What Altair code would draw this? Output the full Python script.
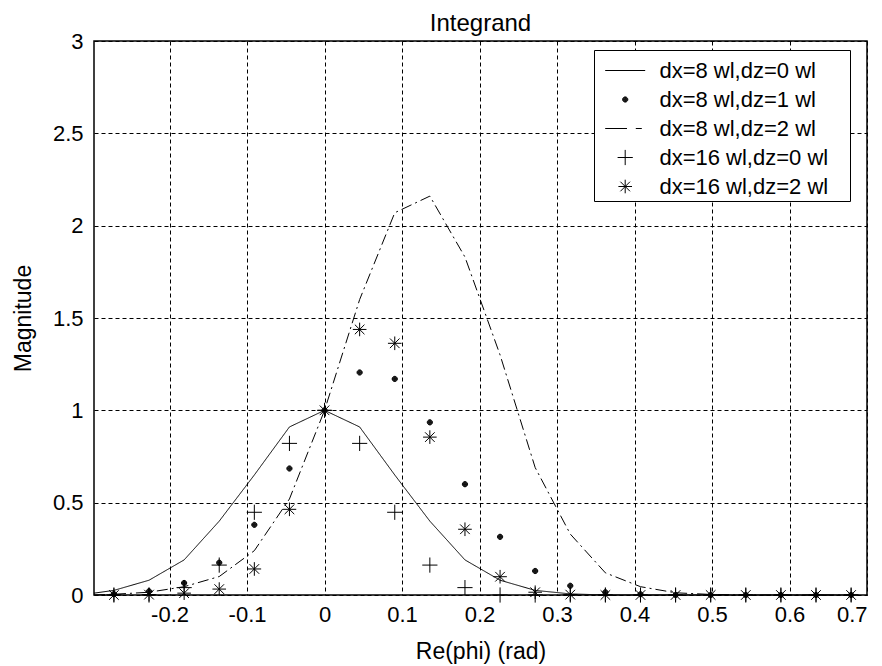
import altair as alt
import pandas as pd

# ---- data ----
phi_markers = [-0.2718, -0.2265, -0.1812, -0.1359, -0.0906, -0.0453, 0.0, 0.0453, 0.0906, 0.1359,
               0.1812, 0.2265, 0.2718, 0.3171, 0.3624, 0.4077, 0.4530, 0.4983, 0.5436, 0.5889,
               0.6342, 0.6795]
phi_lines = [-0.2975, -0.2718, -0.2265, -0.1812, -0.1359, -0.0906, -0.0453, 0.0, 0.0453, 0.0906,
             0.1359, 0.1812, 0.2265, 0.2718, 0.3171, 0.3624, 0.4077, 0.4530, 0.4983, 0.5436,
             0.5889, 0.6342, 0.6795]

mag_dx8_dz0 = [0.01, 0.025, 0.08, 0.19, 0.40, 0.65, 0.91, 1.0, 0.91, 0.65, 0.40, 0.19, 0.08,
               0.025, 0.006, 0.0, 0.0, 0.0, 0.0, 0.0, 0.0, 0.0, 0.0]
mag_dx8_dz2 = [0.0, 0.004, 0.015, 0.045, 0.10, 0.24, 0.52, 1.0, 1.60, 2.07, 2.16, 1.83, 1.30,
               0.69, 0.33, 0.12, 0.045, 0.012, 0.003, 0.0, 0.0, 0.0, 0.0]
mag_dx8_dz1 = [0.005, 0.02, 0.065, 0.175, 0.38, 0.685, 1.0, 1.205, 1.17, 0.935, 0.60, 0.315,
               0.13, 0.05, 0.015, 0.004, 0.0, 0.0, 0.0, 0.0, 0.0, 0.0]
mag_dx16_dz0 = [0.0, 0.0, 0.04, 0.162, 0.448, 0.821, 1.0, 0.821, 0.448, 0.162, 0.04, 0.0, 0.0,
                0.0, 0.0, 0.0, 0.0, 0.0, 0.0, 0.0, 0.0, 0.0]
mag_dx16_dz2 = [0.0, 0.002, 0.01, 0.032, 0.141, 0.464, 1.0, 1.438, 1.363, 0.855, 0.356, 0.099,
                0.015, 0.002, 0.0, 0.0, 0.0, 0.0, 0.0, 0.0, 0.0, 0.0]

series_labels = ["dx=8 wl,dz=0 wl", "dx=8 wl,dz=1 wl", "dx=8 wl,dz=2 wl",
                 "dx=16 wl,dz=0 wl", "dx=16 wl,dz=2 wl"]
x_ticks = [-0.2, -0.1, 0.0, 0.1, 0.2, 0.3, 0.4, 0.5, 0.6, 0.7]
y_ticks = [0, 0.5, 1, 1.5, 2, 2.5, 3]

# ---- tables ----
line_df = pd.concat([
    pd.DataFrame({"phi": phi_lines, "mag": mag_dx8_dz0, "series": series_labels[0]}),
    pd.DataFrame({"phi": phi_lines, "mag": mag_dx8_dz2, "series": series_labels[2]}),
])
point_df = pd.concat([
    pd.DataFrame({"phi": phi_markers, "mag": mag_dx8_dz1, "series": series_labels[1]}),
    pd.DataFrame({"phi": phi_markers, "mag": mag_dx16_dz0, "series": series_labels[3]}),
    pd.DataFrame({"phi": phi_markers, "mag": mag_dx16_dz2, "series": series_labels[4]}),
])

FONT = "Liberation Sans"
SYM_SIZE = 1130  # sqrt -> 33.6 px, one path unit = 16.8 px


def ring(r):
    return f"M-{r},0A{r},{r} 0 1,0 {r},0A{r},{r} 0 1,0 -{r},0"


dot_path = "".join(ring(r) for r in [0.155, 0.125, 0.095, 0.065, 0.036, 0.012])
shape_range = [
    "M-1.19,0L1.19,0",
    dot_path,
    "M-1.19,0L0.107,0M0.63,0L0.988,0",
    "M-0.452,0L0.452,0M0,-0.452L0,0.452",
    "M-0.405,0L0.405,0M0,-0.405L0,0.405M-0.286,-0.286L0.286,0.286M-0.286,0.286L0.286,-0.286",
]

x_enc = alt.X("phi:Q",
              scale=alt.Scale(domain=[-0.2975, 0.7], nice=False, zero=False),
              axis=alt.Axis(values=x_ticks, title="Re(phi) (rad)", grid=True,
                            gridDash=[4, 3], gridColor="black", gridOpacity=1, gridWidth=1,
                            ticks=False, domain=False, labelPadding=9,
                            labelExpr="(datum.value < 0 ? '-' : '') + format(abs(datum.value), '.1~f')",
                            titleY=63, titleBaseline="alphabetic"))
y_enc = alt.Y("mag:Q",
              scale=alt.Scale(domain=[0, 3], nice=False),
              axis=alt.Axis(values=y_ticks, title="Magnitude", grid=True,
                            gridDash=[4, 3], gridColor="black", gridOpacity=1, gridWidth=1,
                            ticks=False, domain=False, labelPadding=11,
                            labelExpr="format(datum.value, '.1~f')",
                            titleX=-64, titleBaseline="alphabetic"))

lines = alt.Chart(line_df).mark_line(color="black", strokeWidth=1).encode(
    x=x_enc, y=y_enc,
    detail="series:N",
    strokeDash=alt.StrokeDash("series:N",
                              scale=alt.Scale(domain=[series_labels[0], series_labels[2]],
                                              range=[[1, 0], [11, 4, 2, 4]]),
                              legend=None),
)

points = alt.Chart(point_df).mark_point(size=SYM_SIZE, color="black", filled=False,
                                         strokeWidth=1, opacity=1).encode(
    x="phi:Q", y="mag:Q",
    shape=alt.Shape("series:N",
                    scale=alt.Scale(domain=series_labels, range=shape_range),
                    legend=alt.Legend(title=None, orient="none", legendX=500, legendY=9,
                                      direction="vertical", padding=3,
                                      strokeColor="black", fillColor="white",
                                      labelFont=FONT, labelFontSize=22, labelColor="black",
                                      labelLimit=0, symbolSize=SYM_SIZE, symbolOffset=10.7,
                                      labelOffset=16.7, rowPadding=0,
                                      labelExpr="datum.label + '\u00a0\u00a0\u00a0\u200b'",
                                      symbolStrokeWidth=1, symbolStrokeColor="black",
                                      symbolOpacity=1)),
)

chart = alt.layer(lines, points).properties(
    width=773, height=554,
    background="white",
    title=alt.TitleParams("Integrand", font=FONT, fontSize=24, fontWeight="normal",
                          color="black", anchor="middle", frame="group",
                          baseline="alphabetic", offset=11, dy=36),
    autosize=alt.AutoSizeParams(type="none"),
    padding={"left": 94, "top": 41, "right": 15, "bottom": 71},
).configure_view(
    stroke="black", strokeWidth=1.5
).configure_axis(
    labelFont=FONT, labelFontSize=22, labelColor="black",
    titleFont=FONT, titleFontSize=23, titleFontWeight="normal", titleColor="black",
)

chart.save("out.html", embed_options={"renderer": "svg", "actions": False})
